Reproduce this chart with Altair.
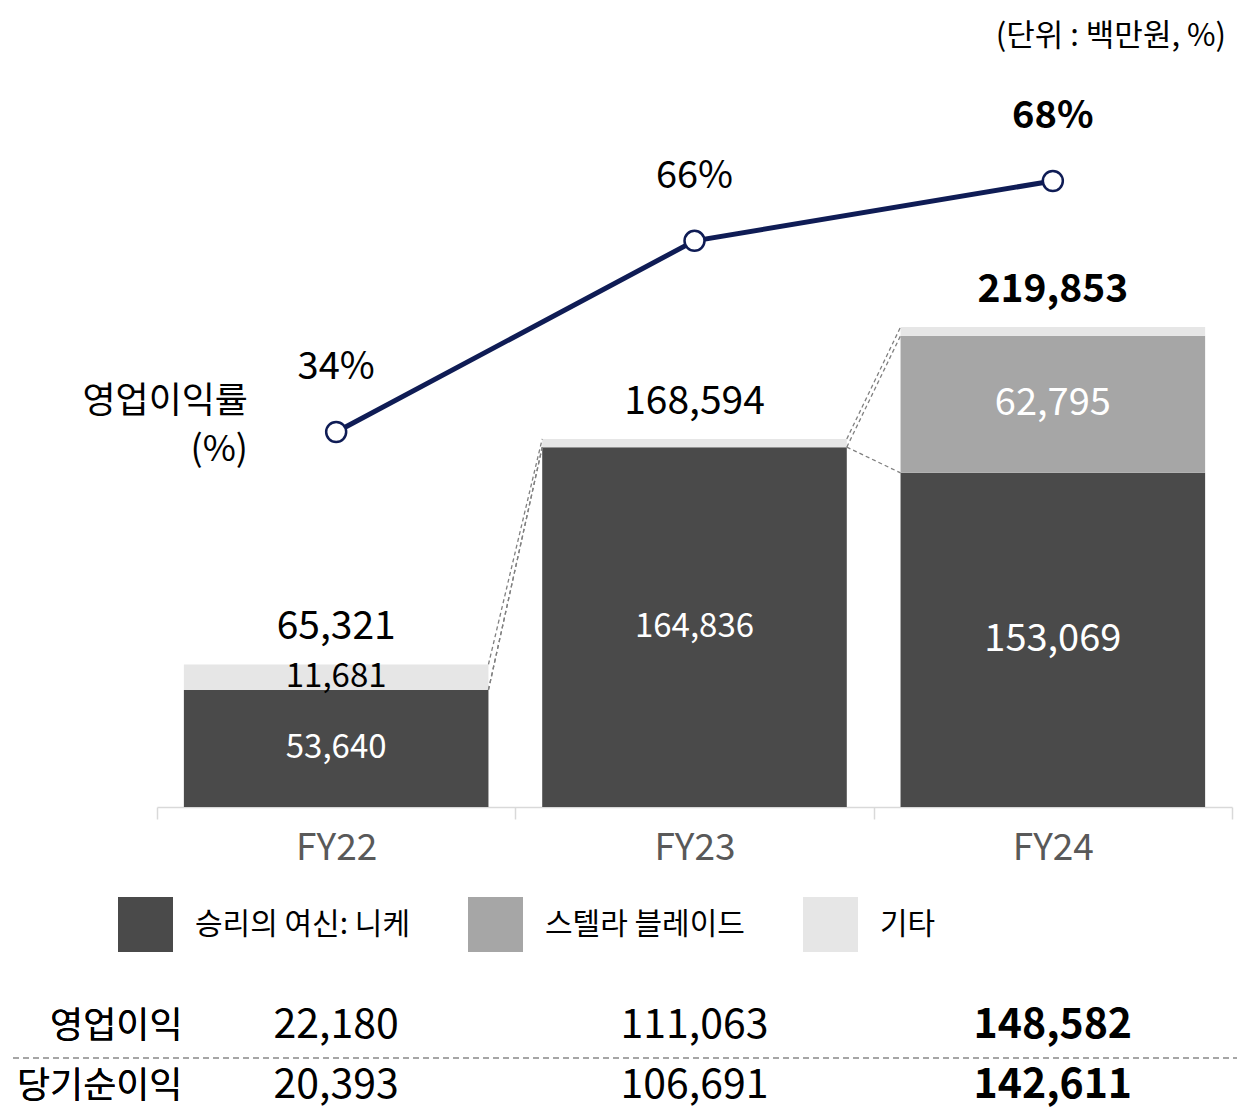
import altair as alt
import pandas as pd

# ---- data ----
years = ["FY22", "FY23", "FY24"]
series = ["승리의 여신: 니케", "스텔라 블레이드", "기타"]
nikke = [53640, 164836, 153069]
stellar = [0, 0, 62795]
etc = [11681, 3758, 3989]
totals = [65321, 168594, 219853]
margin = [34, 66, 68]
row_names = ["영업이익", "당기순이익"]
op_income = [22180, 111063, 148582]
net_income = [20393, 106691, 142611]
unit_text = "(단위 : 백만원, %)"
margin_title = ["영업이익률", "(%)"]

colors = ["#4A4A4A", "#A6A6A6", "#E6E6E6"]
navy = "#0F1C55"
FONT = "Noto Sans CJK KR"
BAR_FRAC = 0.85

# ---- tables ----
bar_rows = []
for i, y in enumerate(years):
    for k, vals in enumerate([nikke, stellar, etc]):
        if vals[i] > 0:
            bar_rows.append({"year": y, "series": series[k], "idx": k, "value": vals[i]})
bars_df = pd.DataFrame(bar_rows)

tot_df = pd.DataFrame({"year": years, "total": totals, "margin": margin})

# connectors between cumulative stack boundaries of neighbouring bars
levels = []
for i in range(len(years)):
    c1 = nikke[i]
    c2 = c1 + stellar[i]
    c3 = c2 + etc[i]
    levels.append([c1, c2, c3])
conn_rows = []
for i in range(len(years) - 1):
    for j in range(3):
        conn_rows.append({"from": years[i], "to": years[i + 1],
                          "v1": levels[i][j], "v2": levels[i + 1][j]})
conn_df = pd.DataFrame(conn_rows)

tab_rows = []
for r, vals in zip(row_names, [op_income, net_income]):
    for y, v in zip(years, vals):
        tab_rows.append({"row": r, "year": y, "value": v})
tab_df = pd.DataFrame(tab_rows)

one = pd.DataFrame({"a": [0]})

# ---- scales ----
W, H = 1229, 1103
base_y = 799
xscale = alt.Scale(domain=years, range=[149, 1224], paddingInner=0, paddingOuter=0)
ybar = alt.Scale(domain=[0, 240000], range=[base_y, base_y - 240000 * 0.002183], nice=False, zero=False)
yline = alt.Scale(type="pow", exponent=9.1, domain=[34, 68], range=[424, 173], nice=False, zero=False)
yrow = alt.Scale(type="point", domain=row_names, range=[1018, 1078], padding=0)

xaxis = alt.Axis(title=None, orient="bottom", offset=-(H - base_y), domainColor="#D9D9D9",
                 domainWidth=1.5, tickColor="#D9D9D9", tickWidth=1.5, tickSize=12,
                 tickBand="extent", labelFontSize=37, labelColor="#595959", labelPadding=29,
                 labelBaseline="middle", labelAngle=0, grid=False)


def X(field="year"):
    return alt.X(f"{field}:N", scale=xscale, axis=xaxis, title=None)


IS24 = "datum.year == 'FY24'"
NOT24 = "datum.year != 'FY24'"


def split_bold(make):
    """Two layers: regular text for FY22/FY23, bold text for FY24."""
    return [make("normal").transform_filter(NOT24), make("bold").transform_filter(IS24)]


bars = alt.Chart(bars_df).mark_bar(width=alt.RelativeBandSize(BAR_FRAC)).encode(
    x=X(),
    y=alt.Y("value:Q", stack="zero", scale=ybar, axis=None),
    color=alt.Color("series:N", scale=alt.Scale(domain=series, range=colors),
                    legend=alt.Legend(orient="none", legendX=110, legendY=889,
                                      direction="horizontal", title=None,
                                      symbolType="square", symbolSize=3025,
                                      symbolStrokeWidth=0, labelFontSize=30,
                                      labelOffset=22, columnPadding=58, padding=0,
                                      labelColor="black", labelLimit=400)),
    order=alt.Order("idx:Q", sort="ascending"),
)

seg_labels = alt.Chart(bars_df).transform_stack(
    stack="value", as_=["y0", "y1"], groupby=["year"],
    sort=[alt.SortField("idx", order="ascending")],
).transform_calculate(mid="(datum.y0 + datum.y1) / 2").transform_filter(
    "datum.value > 5000"
).mark_text(baseline="middle").encode(
    x=X(),
    y=alt.Y("mid:Q", scale=ybar, axis=None),
    text=alt.Text("value:Q", format=","),
    color=alt.when(alt.datum.series == "기타").then(alt.value("black")).otherwise(alt.value("white")),
    size=alt.when(alt.datum.year == "FY24").then(alt.value(38)).otherwise(alt.value(33)),
)

tot_labels = split_bold(lambda w: alt.Chart(tot_df).mark_text(
    baseline="middle", dy=-37, fontSize=39, color="black", fontWeight=w).encode(
    x=X(),
    y=alt.Y("total:Q", scale=ybar, axis=None),
    text=alt.Text("total:Q", format=","),
))

edge = (1 - BAR_FRAC) / 2
connectors = alt.Chart(conn_df).mark_rule(color="#808080", strokeDash=[4, 3], strokeWidth=1.3).encode(
    x=alt.X("from:N", bandPosition=1 - edge, scale=xscale, axis=xaxis, title=None),
    x2=alt.X2("to:N", bandPosition=edge),
    y=alt.Y("v1:Q", scale=ybar, axis=None),
    y2="v2:Q",
)

line = alt.Chart(tot_df).mark_line(color=navy, strokeWidth=5).encode(
    x=X(), y=alt.Y("margin:Q", scale=yline, axis=None)
)
pts = alt.Chart(tot_df).mark_point(filled=True, fill="white", stroke=navy, strokeWidth=2.5,
                                   size=400, opacity=1).encode(
    x=X(), y=alt.Y("margin:Q", scale=yline, axis=None)
)
pct_labels = split_bold(lambda w: alt.Chart(tot_df).transform_calculate(
    pct="datum.margin + '%'").mark_text(
    baseline="middle", dy=-64, fontSize=38, color="black", fontWeight=w).encode(
    x=X(), y=alt.Y("margin:Q", scale=yline, axis=None),
    text="pct:N",
))

margin_label = alt.Chart(one).mark_text(text=margin_title, align="right", baseline="top",
                                        fontSize=36, lineHeight=48, color="black").encode(
    x=alt.value(240), y=alt.value(377)
)

unit_label = alt.Chart(one).mark_text(text=unit_text, align="right", baseline="middle",
                                      fontSize=31, color="black").encode(
    x=alt.value(1218), y=alt.value(29)
)

row_axis = alt.Axis(orient="left", offset=-174, domain=False, ticks=False,
                    labelPadding=0, labelFontSize=36, labelColor="black",
                    title=None, grid=False, labelAlign="right", labelBaseline="middle")

table = split_bold(lambda w: alt.Chart(tab_df).mark_text(
    baseline="middle", fontSize=41, color="black", fontWeight=w).encode(
    x=X(),
    y=alt.Y("row:N", scale=yrow, axis=row_axis),
    text=alt.Text("value:Q", format=","),
))

sep = alt.Chart(one).mark_rule(color="#A6A6A6", strokeDash=[6, 4], strokeWidth=2).encode(
    x=alt.value(5), x2=alt.value(1232), y=alt.value(1050)
)

chart = alt.layer(
    bars, connectors, seg_labels, *tot_labels, line, pts, *pct_labels,
    margin_label, unit_label, *table, sep
).resolve_scale(y="independent").properties(
    width=W, height=H, autosize=alt.AutoSizeParams(type="none"), padding=0
).configure(font=FONT).configure_view(stroke=None)

chart.save("out.html", embed_options={"renderer": "svg", "actions": False})
